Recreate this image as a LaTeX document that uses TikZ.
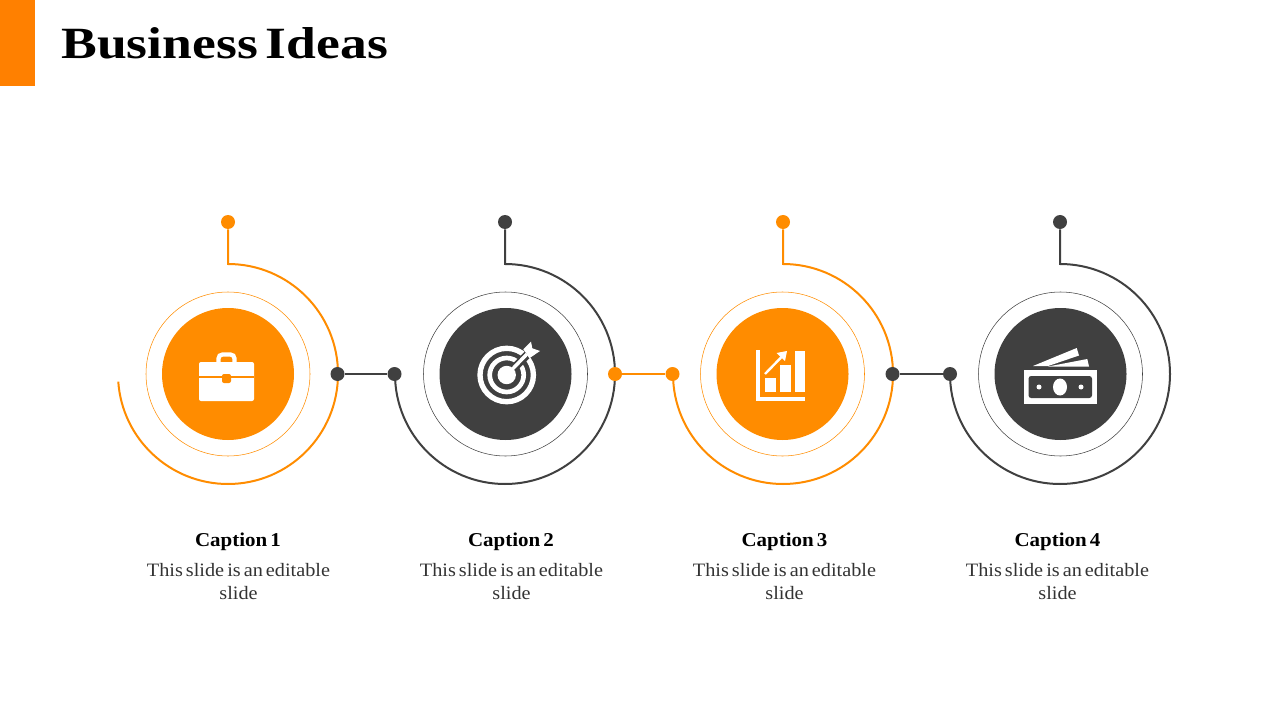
\documentclass[tikz,border=0pt]{standalone}
\usepackage{fontspec}
\setmainfont[FakeStretch=1.07,WordSpace=0.6]{Liberation Serif}
\newfontfamily\titlefont[FakeStretch=1.2,WordSpace=0.6]{Liberation Serif}
\tikzset{
	orangeline/.style={line width=1.5pt, color=ringorange},
	darkline/.style={line width=1.5pt, color=ringdark},
	orangedot/.style={circle, fill=ringorange, inner sep=0pt, minimum size=10.5pt},
	darkdot/.style={circle, fill=ringdark, inner sep=0pt, minimum size=10.5pt},
	orangedisk/.style={circle, fill=ringorange, inner sep=0pt, minimum size=99pt},
	darkdisk/.style={circle, fill=ringdark, inner sep=0pt, minimum size=99pt},
	thinring/.style={circle, draw, line width=0.4pt, inner sep=0pt, minimum size=123pt},
	captionhead/.style={font=\fontsize{14.7}{16}\selectfont\bfseries, color=black},
	captionbody/.style={font=\fontsize{14.2}{17}\selectfont, color=textdark, align=center},
	iconfill/.style={fill=white, draw=none}
}
\definecolor{ringorange}{HTML}{FF8C00}
\definecolor{ringdark}{HTML}{404040}
\definecolor{barorange}{HTML}{FF8000}
\definecolor{textdark}{HTML}{333333}

\begin{document}
\begin{tikzpicture}[x=0.75pt, y=-0.75pt]
		%%%%% START %%%%%
		\useasboundingbox (0, 0) rectangle (1280, 720);
		
		\fill[barorange] (0, 0) rectangle (35, 86);
		\node[anchor=base west, inner sep=0pt, font=\titlefont\fontsize{33.5}{36}\selectfont\bfseries] (title) at (61, 59) {Business Ideas};
		
		% inner disks and rings
		\node[thinring, draw=ringorange] (ringa) at (228, 374) {};
		\node[orangedisk] (diska) at (228, 374) {};
		\node[thinring, draw=ringdark] (ringb) at (505.5, 374) {};
		\node[darkdisk] (diskb) at (505.5, 374) {};
		\node[thinring, draw=ringorange] (ringc) at (782.5, 374) {};
		\node[orangedisk] (diskc) at (782.5, 374) {};
		\node[thinring, draw=ringdark] (ringd) at (1060.5, 374) {};
		\node[darkdisk] (diskd) at (1060.5, 374) {};
		
		% top dots, stems and big arcs
		\node[orangedot] (topa) at (228, 222) {};
		\coordinate (arca) at (228, 264);
		\draw[orangeline] (topa) -- (arca) arc[start angle=90, end angle=-176, x radius=110, y radius=-110];
		
		\node[darkdot] (topb) at (505, 222) {};
		\coordinate (arcb) at (505, 264);
		\draw[darkline] (topb) -- (arcb) arc[start angle=90, end angle=-180, x radius=110, y radius=-110];
		
		\node[orangedot] (topc) at (783, 222) {};
		\coordinate (arcc) at (783, 264);
		\draw[orangeline] (topc) -- (arcc) arc[start angle=90, end angle=-180, x radius=110, y radius=-110];
		
		\node[darkdot] (topd) at (1060, 222) {};
		\coordinate (arcd) at (1060, 264);
		\draw[darkline] (topd) -- (arcd) arc[start angle=90, end angle=-180, x radius=110, y radius=-110];
		
		% links between the arcs
		\node[darkdot] (linka) at (337.5, 374) {};
		\node[darkdot] (linkb) at (394.5, 374) {};
		\draw[darkline] (linka) -- (linkb);
		\node[orangedot] (linkc) at (615, 374) {};
		\node[orangedot] (linkd) at (672.5, 374) {};
		\draw[orangeline] (linkc) -- (linkd);
		\node[darkdot] (linke) at (892.5, 374) {};
		\node[darkdot] (linkf) at (950, 374) {};
		\draw[darkline] (linke) -- (linkf);
		
		% briefcase
		\draw[white, line width=3.2pt, rounded corners=3pt] (218.5, 363) -- (218.5, 354.5) -- (234.5, 354.5) -- (234.5, 363);
		\fill[iconfill, rounded corners=1.5pt] (199, 362) rectangle (254, 401);
		\fill[ringorange] (199, 375.5) rectangle (254, 378);
		\fill[ringorange, rounded corners=1.5pt] (222, 374) rectangle (231, 383);
		
		% target
		\draw[white, line width=4pt] (506.7, 375) circle (26.7);
		\draw[white, line width=3.5pt] (506.7, 375) circle (17);
		\draw[ringdark, line width=6pt] (510, 372) -- (535, 347);
		\fill[iconfill] (506.7, 375) circle (9.2);
		\draw[white, line width=2.6pt] (506.7, 375) -- (527, 354);
		\fill[iconfill] (523.3, 349.3) -- (531, 341.7) -- (532.3, 348.3) -- (540, 351) -- (529.3, 358.3) -- (526.7, 354) -- cycle;
		
		% chart
		\fill[iconfill] (756, 350) rectangle (759.5, 401);
		\fill[iconfill] (756, 397) rectangle (805, 401);
		\fill[iconfill] (765, 378) rectangle (776, 392);
		\fill[iconfill] (780, 365) rectangle (791, 392);
		\fill[iconfill] (795, 351) rectangle (805, 392);
		\draw[white, line width=1.8pt] (765, 374) -- (782, 356.5);
		\fill[iconfill] (776.5, 353) -- (787, 351) -- (785, 361) -- cycle;
		
		% banknotes
		\fill[iconfill] (1023.5, 370) rectangle (1096.5, 404);
		\fill[ringdark, rounded corners=2pt] (1028.5, 376) rectangle (1092, 398);
		\fill[iconfill] (1060, 387) ellipse (7 and 8.5);
		\fill[iconfill] (1039, 387) circle (2.5);
		\fill[iconfill] (1081, 387) circle (2.5);
		\fill[iconfill] (1033, 366) -- (1076.7, 348) -- (1079, 355.5) -- (1057, 363) -- (1048, 366) -- cycle;
		\fill[iconfill] (1048, 366.5) -- (1087.3, 359) -- (1089, 366.5) -- cycle;
		
		% captions
		\node[captionhead] (heada) at (238, 541.5) {Caption 1};
		\node[captionbody] (bodya) at (238.5, 581.5) {This slide is an editable\\slide};
		\node[captionhead] (headb) at (511, 541.5) {Caption 2};
		\node[captionbody] (bodyb) at (511.5, 581.5) {This slide is an editable\\slide};
		\node[captionhead] (headc) at (784.5, 541.5) {Caption 3};
		\node[captionbody] (bodyc) at (784.5, 581.5) {This slide is an editable\\slide};
		\node[captionhead] (headd) at (1057.5, 541.5) {Caption 4};
		\node[captionbody] (bodyd) at (1057.5, 581.5) {This slide is an editable\\slide};
		
		%%%%% END %%%%%
	\end{tikzpicture}
\end{document}
